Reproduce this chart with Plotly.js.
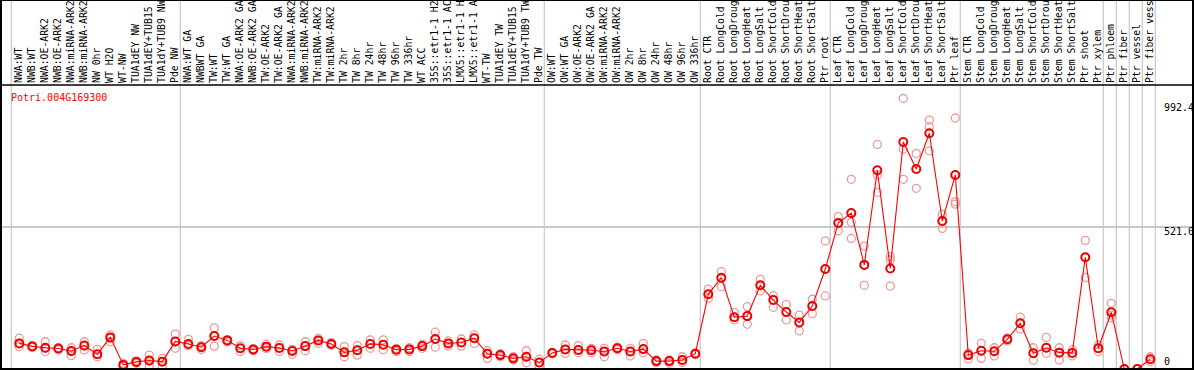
<!DOCTYPE html>
<html>
<head>
<meta charset="utf-8">
<script src="https://cdn.plot.ly/plotly-3.0.1.min.js"></script>
<style>
html,body{margin:0;padding:0;background:#fff;}
#chart{width:1194px;height:370px;}
</style>
</head>
<body>
<div id="chart"></div>
<script>
const geneName = "Potri.004G169300";

const categories = [
  "NWA:WT","NWB:WT","NWA:OE-ARK2","NWB:OE-ARK2","NWA:miRNA-ARK2","NWB:miRNA-ARK2","NW 0hr","WT H2O","WT-NW",
  "TUA1dEY NW","TUA1dEY+TUB15","TUA1dY+TUB9 NW","Pde NW",
  "NWA:WT GA","NWBWT GA","TW:WT","TW:WT GA","NWA:OE-ARK2 GA","NWB:OE-ARK2 GA","TW:OE-ARK2","TW:OE-ARK2 GA",
  "NWA:miRNA-ARK2","NWB:miRNA-ARK2","TW:miRNA-ARK2","TW:miRNA-ARK2","TW 2hr","TW 8hr","TW 24hr","TW 48hr","TW 96hr","TW 336hr",
  "WT ACC","35S::etr1-1 H2","35S::etr1-1 AC","LMX5::etr1-1 H","LMX5::etr1-1 A","WT-TW","TUA1dEY TW","TUA1dEY+TUB15","TUA1dY+TUB9 TW","Pde TW",
  "OW:WT","OW:WT GA","OW:OE-ARK2","OW:OE-ARK2 GA","OW:miRNA-ARK2","OW:miRNA-ARK2","OW 2hr","OW 8hr","OW 24hr","OW 48hr","OW 96hr","OW 336hr",
  "Root CTR","Root LongCold","Root LongDroug","Root LongHeat","Root LongSalt","Root ShortCold","Root ShortDrou","Root ShortHeat","Root ShortSalt","Ptr root",
  "Leaf CTR","Leaf LongCold","Leaf LongDroug","Leaf LongHeat","Leaf LongSalt","Leaf ShortCold","Leaf ShortDrou","Leaf ShortHeat","Leaf ShortSalt","Ptr leaf",
  "Stem CTR","Stem LongCold","Stem LongDroug","Stem LongHeat","Stem LongSalt","Stem ShortCold","Stem ShortDrou","Stem ShortHeat","Stem ShortSalt","Ptr shoot",
  "Ptr xylem","Ptr phloem","Ptr fiber","Ptr vessel","Ptr fiber vess"
];

const meanValues = [
  94,83,78,75,66,86,54,116,15,26,31,27,101,
  92,80,121,105,76,72,82,77,66,84,105,92,61,69,92,89,71,72,
  84,110,94,97,113,56,51,39,45,24,
  59,72,70,69,64,76,64,73,29,29,33,56,
  274,335,190,194,307,253,209,171,231,367,
  536,572,382,729,369,833,734,865,543,712,
  51,67,65,109,168,58,78,60,59,410,
  76,208,0,0,36
];

const rep1 = [
  113,86,100,78,78,100,72,125,20,30,51,39,128,
  109,86,151,108,86,75,91,88,72,100,112,97,82,86,107,107,76,78,
  91,135,103,110,125,67,56,45,67,36,
  61,88,86,76,76,80,76,94,33,33,45,59,
  293,357,208,229,329,269,237,198,256,470,
  559,696,451,824,412,992.4,791,913,567,921,
  58,94,78,113,190,78,116,78,70,472,
  88,241,0,0,45
];
const rep2 = [
  94,83,76,75,64,84,54,113,14,26,29,27,100,
  92,80,121,105,76,72,82,77,66,84,105,92,61,69,92,89,71,72,
  84,110,94,97,113,56,51,39,45,24,
  59,72,70,69,64,76,64,73,29,29,33,56,
  274,335,190,194,307,253,208,171,231,367,
  536,538,382,712,400,806,734,889,543,614,
  51,67,65,109,168,58,78,60,59,410,
  76,198,0,0,36
];
const rep3 = [
  82,79,64,70,49,70,45,100,10,21,11,8,76,
  86,72,84,99,64,67,75,64,54,67,94,87,45,51,76,71,64,64,
  76,80,84,84,94,39,45,33,23,8,
  56,57,60,60,45,71,48,60,24,21,24,53,
  259,302,180,164,286,226,180,140,203,268,
  507,479,307,648,304,696,663,800,516,605,
  37,39,48,103,146,32,58,33,48,336,
  64,188,0,0,27
];

const groupBreaks = [-1,12,40,52,62,72,83,84,85,86,87];
const yTickVals = [0, 521.0, 992.4];
const yTickText = ["0", "521.0", "992.4"];

const xIdx = categories.map((_, i) => i);
const repX = [].concat(xIdx, xIdx, xIdx);
const repY = [].concat(rep1, rep2, rep3);

const mono = "DejaVu Sans Mono, Liberation Mono, monospace";

const traces = [
  {
    x: repX, y: repY, type: "scatter", mode: "markers",
    marker: {symbol: "circle-open", size: 8, color: "#ea9a9a", line: {width: 1.3, color: "#ea9a9a"}},
    hoverinfo: "skip", showlegend: false
  },
  {
    x: xIdx, y: meanValues, type: "scatter", mode: "lines+markers",
    line: {color: "#ff0000", width: 1.1},
    marker: {symbol: "circle-open", size: 8, color: "#ee0000", line: {width: 2, color: "#ee0000"}},
    showlegend: false
  }
];

const shapes = groupBreaks.map(b => ({
  type: "line", xref: "x", yref: "paper",
  x0: b + 0.385, x1: b + 0.385, y0: 0, y1: 1 + 85/284,
  line: {color: "#c8c8c8", width: 1.2}, layer: "below"
}));
// outer frame and header separator
shapes.push({type: "rect", xref: "paper", yref: "paper", x0: 0, x1: 1, y0: 0, y1: 1 + 85/284,
  line: {color: "#000", width: 2}, fillcolor: "rgba(0,0,0,0)"});
shapes.push({type: "line", xref: "paper", yref: "paper", x0: 0, x1: 1, y0: 1, y1: 1,
  line: {color: "#000", width: 1.5}});

const annotations = [
  {text: geneName, xref: "paper", yref: "paper", x: 8/1192, y: 1, xanchor: "left", yanchor: "middle",
   yshift: -12, showarrow: false, font: {family: mono, size: 10, color: "#ff0000"}}
];
const labelShift = [7.5, -4.5, -9];
yTickVals.forEach((v, k) => {
  annotations.push({text: yTickText[k], xref: "paper", yref: "y", x: 1161/1192, y: v,
    xanchor: "left", yanchor: "middle", yshift: labelShift[k], showarrow: false,
    font: {family: mono, size: 10, color: "#000"}});
});

const layout = {
  width: 1194, height: 370,
  margin: {l: 1, r: 1, t: 85, b: 1, pad: 0},
  paper_bgcolor: "#fff", plot_bgcolor: "#fff",
  showlegend: false,
  xaxis: {
    side: "top", range: [-1.4077, 90.285], autorange: false,
    tickmode: "array", tickvals: xIdx, ticktext: categories,
    tickangle: -90, ticks: "", showgrid: false, zeroline: false, showline: false,
    tickfont: {family: mono, size: 9.8, color: "#000"}, ticklabelstandoff: 1,
    fixedrange: true
  },
  yaxis: {
    range: [0, 1042], autorange: false,
    tickmode: "array", tickvals: [521.0], showticklabels: false,
    showgrid: true, gridcolor: "#c8c8c8", gridwidth: 1.2, zeroline: false, showline: false,
    fixedrange: true
  },
  shapes: shapes,
  annotations: annotations
};

Plotly.newPlot("chart", traces, layout, {displayModeBar: false, staticPlot: true});
</script>
</body>
</html>
